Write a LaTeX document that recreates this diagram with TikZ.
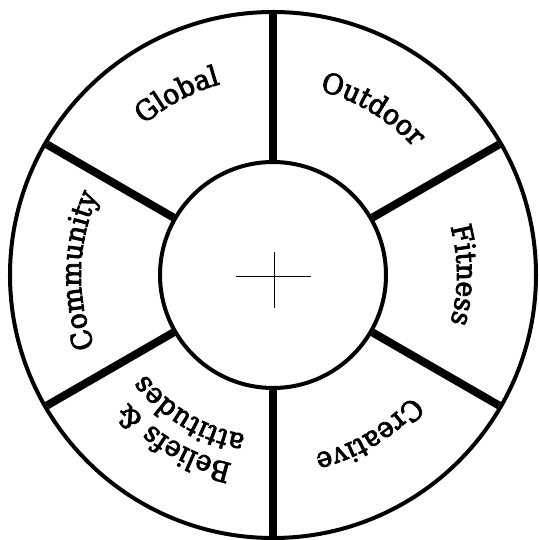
\documentclass[tikz,border=0pt]{standalone}
\usepackage{fontspec}
\setmainfont{DejaVu Serif}[FakeStretch=0.95, FakeBold=3]
\usetikzlibrary{decorations.text}

\begin{document}
\fontsize{28}{33}\selectfont
\catcode`\&=12
\begin{tikzpicture}[x=1pt, y=1pt,
    ring/.style={line width=4pt},
    spoke/.style={line width=8pt},
    arc label/.style={decorate, decoration={text along path, text align=center, text={#1}}}]
  \useasboundingbox (-273,-265) rectangle (265,275);
  \coordinate (centre) at (0,0);
  \draw[ring] (centre) circle (263);
  \draw[ring] (centre) circle (113);
  \foreach \a in {90,30,-30,-90,-150,150}
    \draw[spoke] (\a:115) -- (\a:261);
  % cross in the middle
  \draw[line width=1pt] (-37,-2) -- (38,-2);
  \draw[line width=1pt] (1,23) -- (1,-33);
  % labels along the ring, read clockwise
  \path[arc label=Global] (168:198) arc[start angle=168, end angle=68, radius=198];
  \path[arc label=Outdoor] (109:190) arc[start angle=109, end angle=9, radius=190];
  \path[arc label=Fitness] (50:184) arc[start angle=50, end angle=-50, radius=184];
  \path[arc label=Creative] (-9:184) arc[start angle=-9, end angle=-109, radius=184];
  \path[arc label={Beliefs &}] (-70.5:193) arc[start angle=-70.5, end angle=-170.5, radius=193];
  \path[arc label=attitudes] (-71:162) arc[start angle=-71, end angle=-171, radius=162];
  \path[arc label=Community] (228.7:192) arc[start angle=228.7, end angle=128.7, radius=192];
\end{tikzpicture}
\end{document}
